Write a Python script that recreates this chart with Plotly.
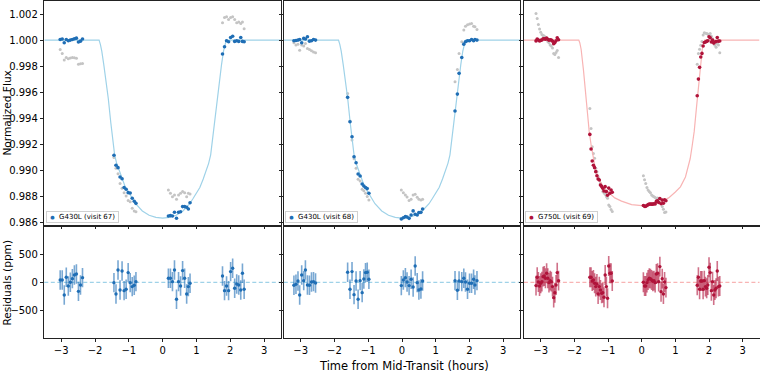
import plotly.graph_objects as go

# ---------------- data ----------------
t67 = [-3.03, -2.97, -2.91, -2.85, -2.79, -2.73, -2.67, -2.61, -2.55, -2.49, -2.43, -2.37,
       -1.44, -1.38, -1.32, -1.26, -1.20, -1.14, -1.08, -1.02, -0.96, -0.90, -0.84, -0.79,
       0.17, 0.23, 0.29, 0.35, 0.41, 0.47, 0.53, 0.59, 0.65, 0.71, 0.76, 0.81,
       1.77, 1.83, 1.89, 1.95, 2.01, 2.07, 2.13, 2.19, 2.25, 2.31, 2.36, 2.41]
flux67 = [1.00005, 1.00008, 0.99980, 1.00005, 0.99995, 1.00000, 1.00005, 1.00010, 1.00015, 0.99985, 0.99992, 1.00008,
          0.99117, 0.99040, 0.99022, 0.98950, 0.98937, 0.98870, 0.98856, 0.98830, 0.98828, 0.98787, 0.98764, 0.98748,
          0.98651, 0.98654, 0.98651, 0.98680, 0.98634, 0.98680, 0.98684, 0.98723, 0.98723, 0.98718, 0.98705, 0.98753,
          0.99893, 0.99949, 0.99995, 0.99987, 1.00020, 1.00030, 0.99990, 0.99995, 0.99990, 1.00020, 0.99990, 0.99988]
raw67 = [0.99928, 0.99898, 0.99847, 0.99867, 0.99857, 0.99862, 0.99867, 0.99865, 0.99860, 0.99814, 0.99819, 0.99821,
         0.99100, 0.99017, 0.98975, 0.98900, 0.98864, 0.98830, 0.98805, 0.98769, 0.98760, 0.98710, 0.98690, 0.98684,
         0.98851, 0.98825, 0.98799, 0.98812, 0.98779, 0.98812, 0.98825, 0.98838, 0.98830, 0.98799, 0.98825, 0.98820,
         1.00133, 1.00174, 1.00179, 1.00158, 1.00174, 1.00179, 1.00158, 1.00133, 1.00138, 1.00128, 1.00138, 1.00087]
res67 = [42, 42, -229, 90, -66, 0, 66, 132, 150, -163, -48, 84,
         -6, -211, 223, -138, 205, -151, -126, 175, -6, -78, -54, 12,
         72, 72, 12, 223, -307, 12, -66, 211, 72, -211, -78, -18,
         114, -151, -66, -151, 193, 253, -108, -30, -48, -138, 163, -126]

t68 = [-3.20, -3.14, -3.08, -3.03, -2.97, -2.91, -2.86, -2.80, -2.74, -2.68, -2.62, -2.56,
       -1.61, -1.54, -1.48, -1.42, -1.36, -1.30, -1.24, -1.18, -1.13, -1.08, -1.03, -0.98,
       -0.02, 0.04, 0.10, 0.15, 0.21, 0.27, 0.33, 0.39, 0.45, 0.50, 0.56, 0.61,
       1.57, 1.64, 1.69, 1.77, 1.83, 1.88, 1.94, 2.00, 2.06, 2.12, 2.16, 2.22]
flux68 = [0.99995, 0.99997, 1.00000, 1.00005, 0.99980, 1.00013, 1.00008, 1.00026, 0.99992, 0.99995, 1.00005, 1.00000,
          0.99561, 0.99374, 0.99259, 0.99106, 0.99060, 0.98973, 0.98958, 0.98897, 0.98881, 0.98870, 0.98861, 0.98825,
          0.98628, 0.98638, 0.98646, 0.98643, 0.98633, 0.98659, 0.98690, 0.98664, 0.98659, 0.98677, 0.98679, 0.98705,
          0.99456, 0.99586, 0.99745, 0.99867, 0.99969, 0.99987, 0.99995, 0.99995, 1.00005, 0.99995, 1.00005, 1.00000]
raw68 = [0.99980, 0.99962, 0.99969, 0.99923, 0.99962, 0.99954, 0.99974, 0.99936, 0.99928, 0.99918, 0.99908, 0.99903,
         0.99591, 0.99380, 0.99234, 0.99090, 0.99017, 0.98932, 0.98920, 0.98856, 0.98845, 0.98825, 0.98800, 0.98774,
         0.98851, 0.98830, 0.98812, 0.98797, 0.98769, 0.98779, 0.98812, 0.98817, 0.98794, 0.98779, 0.98774, 0.98779,
         0.99681, 0.99775, 0.99898, 0.99987, 1.00077, 1.00107, 1.00117, 1.00123, 1.00128, 1.00107, 1.00102, 1.00082]
res68 = [-54, -36, 24, -229, 132, 30, 223, -48, -54, 6, 12, -12,
         181, -126, 193, -223, 24, -307, 30, -187, 60, 175, 181, 54,
         -60, 42, 84, 6, -60, 54, -84, 295, -6, -138, -120, 24,
         30, -144, 24, 12, 72, 6, -126, -18, -18, 54, -48, 30]

t69 = [-3.14, -3.105, -3.07, -3.035, -3.00, -2.965, -2.93, -2.895, -2.86, -2.825,
       -2.79, -2.755, -2.72, -2.685, -2.65, -2.615, -2.58, -2.545, -2.51, -2.47,
       -1.54, -1.505, -1.47, -1.435, -1.40, -1.365, -1.33, -1.295, -1.26, -1.225,
       -1.19, -1.155, -1.12, -1.085, -1.05, -1.015, -0.98, -0.945, -0.91, -0.875,
       0.05, 0.085, 0.12, 0.155, 0.19, 0.225, 0.26, 0.295, 0.33, 0.365,
       0.40, 0.435, 0.47, 0.505, 0.54, 0.575, 0.61, 0.645, 0.68, 0.72,
       1.65, 1.685, 1.72, 1.755, 1.79, 1.825, 1.86, 1.895, 1.93, 1.965,
       2.00, 2.035, 2.07, 2.105, 2.14, 2.175, 2.21, 2.245, 2.28, 2.32]
flux69 = [0.99994, 1.00009, 1.00001, 0.99993, 0.99998, 1.00001, 1.00010, 1.00011, 1.00007, 1.00016,
          1.00007, 0.99999, 1.00003, 1.00001, 0.99992, 0.99972, 0.99981, 0.99995, 1.00018, 1.00003,
          0.99277, 0.99165, 0.99073, 0.99040, 0.99022, 0.98991, 0.98960, 0.98935, 0.98927, 0.98889,
          0.98878, 0.98863, 0.98843, 0.98876, 0.98838, 0.98810, 0.98865, 0.98825, 0.98851, 0.98833,
          0.98731, 0.98725, 0.98725, 0.98732, 0.98738, 0.98742, 0.98743, 0.98742, 0.98742, 0.98745,
          0.98744, 0.98763, 0.98767, 0.98755, 0.98785, 0.98745, 0.98773, 0.98749, 0.98775, 0.98768,
          0.99573, 0.99701, 0.99791, 0.99870, 0.99898, 0.99955, 0.99982, 0.99985, 0.99990, 0.99995,
          1.00026, 1.00018, 0.99985, 1.00001, 0.99977, 0.99986, 0.99989, 1.00020, 0.99992, 0.99993]
raw69 = [1.00204, 1.00166, 1.00120, 1.00085, 1.00060, 1.00043, 1.00035, 1.00031, 1.00020, 1.00005,
         0.99990, 0.99980, 0.99962, 0.99955, 0.99940, 0.99898, 0.99890, 0.99905, 0.99920, 0.99867,
         0.99476, 0.99323, 0.99183, 0.99130, 0.99093, 0.99017, 0.98990, 0.98953, 0.98930, 0.98902,
         0.98880, 0.98838, 0.98830, 0.98817, 0.98800, 0.98787, 0.98736, 0.98723, 0.98700, 0.98685,
         0.98960, 0.98930, 0.98900, 0.98869, 0.98850, 0.98838, 0.98830, 0.98812, 0.98805, 0.98799,
         0.98792, 0.98786, 0.98790, 0.98779, 0.98785, 0.98760, 0.98723, 0.98703, 0.98677, 0.98682,
         0.99814, 0.99898, 0.99930, 0.99960, 0.99990, 1.00040, 1.00056, 1.00052, 1.00051, 1.00046,
         1.00038, 1.00050, 1.00030, 1.00010, 0.99987, 0.99960, 0.99946, 0.99974, 0.99962, 0.99903]
res69 = [-60, 90, 6, -66, -18, 12, 102, 114, 72, 163, 72, -6, 30, 12, -78, -277, -187, -48, 175, 30,
         90, 90, 24, 42, -18, -78, -30, -211, -78, -138, -199, -187, -271, 132, -78, -289, 295, 163, 163, 24,
         0, -66, -66, -6, 42, 72, 66, 42, 18, 30, -6, 151, 163, 12, 283, -169, 66, -211, 6, -96,
         -54, 90, -126, 24, 24, -126, 30, -78, -108, -48, 271, 175, -151, 12, -229, -138, -108, 205, -78, -66]

err430 = 175   # ppm, residual error bar half-length
err750 = 180

model430_t = [-3.5, -1.88, -1.84, -1.80, -1.74, -1.68, -1.607, -1.535, -1.48, -1.42, -1.36, -1.30, -1.20,
              -1.10, -1.00, -0.90, -0.80, -0.60, -0.40, -0.20, 0.0, 0.20, 0.40, 0.60, 0.80, 0.90, 1.00,
              1.10, 1.20, 1.30, 1.36, 1.42, 1.48, 1.535, 1.607, 1.68, 1.74, 1.80, 1.84, 1.88, 3.5]
model430_f = [1.0, 1.0, 0.99965, 0.99915, 0.99810, 0.99700, 0.99550, 0.99370, 0.99250, 0.99120, 0.99055,
              0.99010, 0.98935, 0.98870, 0.98830, 0.98785, 0.98745, 0.98690, 0.98657, 0.98640, 0.98634,
              0.98640, 0.98657, 0.98690, 0.98745, 0.98785, 0.98830, 0.98870, 0.98935, 0.99010, 0.99055,
              0.99120, 0.99250, 0.99370, 0.99550, 0.99700, 0.99810, 0.99915, 0.99965, 1.0, 1.0]
model750_t = [-3.5, -1.87, -1.84, -1.80, -1.73, -1.63, -1.56, -1.50, -1.44, -1.38, -1.30, -1.15, -1.00,
              -0.80, -0.60, -0.30, 0.0, 0.30, 0.60, 0.80, 1.00, 1.15, 1.30, 1.38, 1.44, 1.50, 1.56, 1.63,
              1.73, 1.80, 1.84, 1.87, 3.5]
model750_f = [1.0, 1.0, 0.99980, 0.99930, 0.99770, 0.99490, 0.99300, 0.99190, 0.99090, 0.99020, 0.98950,
              0.98875, 0.98835, 0.98790, 0.98765, 0.98738, 0.98730, 0.98738, 0.98765, 0.98790, 0.98835,
              0.98875, 0.98950, 0.99020, 0.99090, 0.99190, 0.99300, 0.99490, 0.99770, 0.99930, 0.99980,
              1.0, 1.0]

labels = ["G430L (visit 67)", "G430L (visit 68)", "G750L (visit 69)"]
x_ticks = [-3, -2, -1, 0, 1, 2, 3]
flux_ticks = [0.986, 0.988, 0.990, 0.992, 0.994, 0.996, 0.998, 1.000, 1.002]
res_ticks = [-500, 0, 500]

# ---------------- styling ----------------
W, H = 760, 373
FONT = "DejaVu Sans"
BLUE = "#1f6eb5"
BLUE_ERR = "rgba(31,110,181,0.6)"
BLUE_MODEL = "#9fd2e8"
RED = "#b0133a"
RED_ERR = "rgba(176,19,58,0.6)"
RED_MODEL = "#f8b4b4"
GREY = "#c4c4c4"

panels = [
    dict(t=t67, f=flux67, raw=raw67, res=res67, mt=model430_t, mf=model430_f,
         c=BLUE, ce=BLUE_ERR, cm=BLUE_MODEL, err=err430),
    dict(t=t68, f=flux68, raw=raw68, res=res68, mt=model430_t, mf=model430_f,
         c=BLUE, ce=BLUE_ERR, cm=BLUE_MODEL, err=err430),
    dict(t=t69, f=flux69, raw=raw69, res=res69, mt=model750_t, mf=model750_f,
         c=RED, ce=RED_ERR, cm=RED_MODEL, err=err750),
]

xpx = [(44.3, 281.0), (283.8, 520.2), (523.9, 759.5)]
top_px = (1.0, 225.0)
bot_px = (226.9, 337.7)


def ydom(p):
    return [1 - p[1] / H, 1 - p[0] / H]


fig = go.Figure()
layout = dict(width=W, height=H, margin=dict(l=0, r=0, t=0, b=0, autoexpand=False), autosize=False,
              paper_bgcolor="white", plot_bgcolor="white", showlegend=False,
              font=dict(family=FONT, size=10, color="black"))

axis_common = dict(showline=True, mirror=True, linecolor="#222222", linewidth=0.9,
                   ticks="outside", ticklen=3.5, tickwidth=0.8, tickcolor="#222222",
                   showgrid=False, zeroline=False, automargin=False,
                   tickfont=dict(family=FONT, size=10, color="black"))

annotations = []
shapes = []
for i, p in enumerate(panels):
    top = i + 1
    bot = i + 4
    xd = [xpx[i][0] / W, xpx[i][1] / W]
    xt = "x" if top == 1 else f"x{top}"
    yt = "y" if top == 1 else f"y{top}"
    xb = f"x{bot}"
    yb = f"y{bot}"

    # top panel: raw (grey), model, detrended data
    fig.add_trace(go.Scatter(x=p["t"], y=p["raw"], mode="markers", xaxis=xt, yaxis=yt,
                             marker=dict(color=GREY, size=3), hoverinfo="skip"))
    fig.add_trace(go.Scatter(x=p["mt"], y=p["mf"], mode="lines", xaxis=xt, yaxis=yt,
                             line=dict(color=p["cm"], width=1.2), hoverinfo="skip"))
    fig.add_trace(go.Scatter(x=p["t"], y=p["f"], mode="markers", xaxis=xt, yaxis=yt,
                             marker=dict(color=p["c"], size=3.6)))
    # bottom panel: residuals with error bars
    fig.add_trace(go.Scatter(x=p["t"], y=p["res"], mode="markers", xaxis=xb, yaxis=yb,
                             marker=dict(color=p["c"], size=3.4),
                             error_y=dict(type="constant", value=p["err"], color=p["ce"],
                                          thickness=1.6, width=0)))

    shapes.append(dict(type="line", xref=f"{xb} domain", yref=yb, x0=0, x1=1, y0=0, y1=0,
                       line=dict(color=p["cm"], width=1.2, dash="4px,2.5px"), layer="below"))

    layout["xaxis" if top == 1 else f"xaxis{top}"] = dict(
        axis_common, domain=xd, range=[-3.5, 3.5], tickvals=x_ticks, showticklabels=False,
        anchor=yt)
    layout["yaxis" if top == 1 else f"yaxis{top}"] = dict(
        axis_common, domain=ydom(top_px), range=[0.98582, 1.003], tickvals=flux_ticks,
        tickformat=".3f", showticklabels=(i == 0), anchor=xt)
    layout[f"xaxis{bot}"] = dict(
        axis_common, domain=xd, range=[-3.5, 3.5], tickvals=x_ticks, showticklabels=True,
        anchor=yb)
    layout[f"yaxis{bot}"] = dict(
        axis_common, domain=ydom(bot_px), range=[-1000, 1000], tickvals=res_ticks,
        showticklabels=(i == 0), anchor=xb)

    # legend box (lower-left of the top panel)
    annotations.append(dict(
        xref=f"{xt} domain", yref=f"{yt} domain", x=0.006, y=0.011,
        xanchor="left", yanchor="bottom", showarrow=False,
        text=f'\u00a0<span style="font-size:5px;color:{p["c"]}">\u25cf</span>\u00a0\u00a0{labels[i]}\u00a0',
        font=dict(family=FONT, size=7, color="black"),
        bgcolor="rgba(255,255,255,0.85)", bordercolor="#d0d0d0", borderwidth=1, borderpad=1))

# axis titles
annotations.append(dict(xref="paper", yref="paper", x=6.6 / W, y=1 - 113 / H, showarrow=False,
                        text="Normalized Flux", textangle=-90, xanchor="center", yanchor="middle",
                        font=dict(family=FONT, size=10.6, color="black")))
annotations.append(dict(xref="paper", yref="paper", x=6.6 / W, y=1 - 283 / H, showarrow=False,
                        text="Residuals (ppm)", textangle=-90, xanchor="center", yanchor="middle",
                        font=dict(family=FONT, size=10.6, color="black")))
annotations.append(dict(xref="paper", yref="paper", x=404 / W, y=1 - 366 / H, showarrow=False,
                        text="Time from Mid-Transit (hours)", xanchor="center", yanchor="middle",
                        font=dict(family=FONT, size=11.5, color="black")))

layout["annotations"] = annotations
layout["shapes"] = shapes
fig.update_layout(**layout)

fig.write_html("out.html", config={"displayModeBar": False},
               post_script="document.body.style.margin='0px';document.body.style.padding='0px';"
                           "document.body.style.overflow='hidden';")
